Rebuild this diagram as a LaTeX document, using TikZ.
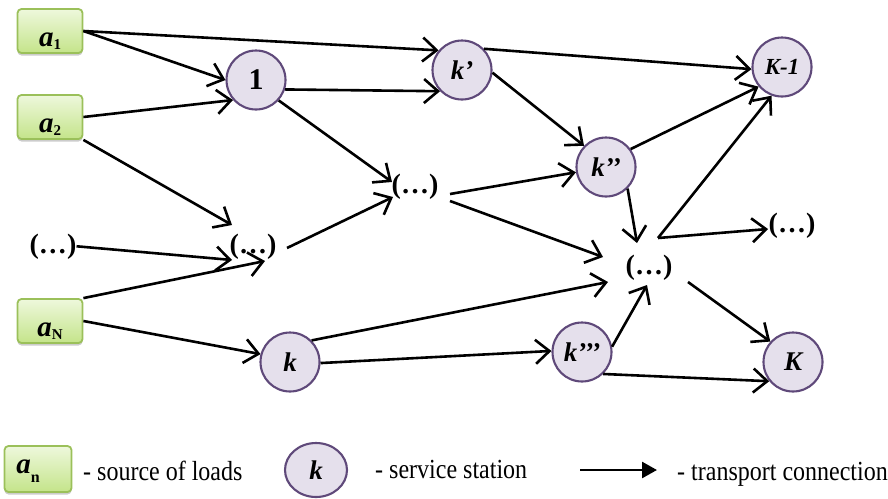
\documentclass[tikz,border=0pt]{standalone}
\usepackage{fontspec}
\usepackage{graphicx}
\setmainfont{Liberation Serif}
\usetikzlibrary{arrows.meta,shadows,shapes.geometric}
\definecolor{srcTop}{HTML}{EEF8DC}
\definecolor{srcBot}{HTML}{C4E48A}
\definecolor{srcLine}{HTML}{9BC05A}
\definecolor{stFill}{HTML}{E5E0EC}
\definecolor{stLine}{HTML}{5F497A}
\newcommand{\srclab}[1]{{\fontsize{29}{29}\selectfont\bfseries\itshape a}{\fontsize{15}{15}\selectfont\bfseries\raisebox{-3pt}{#1}}}
\newcommand{\legtxt}[1]{\scalebox{1}[1.15]{#1}}
\begin{document}
\begin{tikzpicture}[x=1pt,y=-1pt,
 src/.style={rectangle, rounded corners=4pt, draw=srcLine, line width=1.8pt,
   top color=srcTop, bottom color=srcBot, minimum width=65pt, minimum height=44pt,
   drop shadow={shadow xshift=0pt, shadow yshift=-2.5pt, fill=black!40},
   inner sep=0pt, text height=30pt, text depth=0pt},
 st/.style={circle, draw=stLine, line width=2.1pt, fill=stFill, minimum size=59pt,
   inner sep=0pt, font=\fontsize{27}{27}\selectfont\bfseries\itshape},
 dots/.style={anchor=base, inner sep=0pt, font=\fontsize{28}{28}\selectfont\bfseries},
 conn/.style={line width=2.6pt, -{Straight Barb[length=14pt,width=24pt,line width=2.6pt]}},
 leg/.style={anchor=base west, inner sep=0pt, font=\fontsize{24}{24}\selectfont}
]
\useasboundingbox (0,0) rectangle (888,498);

% sources
\node[src] (a1) at (50,31) {\srclab{1}};
\node[src] (a2) at (50,117) {\srclab{2}};
\node[src] (aN) at (50,321) {\srclab{N}};
\node[dots] (dL) at (53,253) {(…)};

% stations
\node[st] (n1) at (256,80) {\fontsize{30}{30}\selectfont\upshape 1};
\node[st] (kp) at (462,70) {k’};
\node[st] (Km) at (782,67) {\fontsize{23}{23}\selectfont K-1};
\node[st] (kpp) at (606,167) {k’’};
\node[st] (k) at (290,362) {k};
\node[st] (kppp) at (582,352) {k’’’};
\node[st] (K) at (793,362) {K};

% intermediate dots
\node[dots] (dLM) at (253,253) {(…)};
\node[dots] (dM) at (415,193) {(…)};
\node[dots] (dC) at (649,274) {(…)};
\node[dots] (dR) at (792,232) {(…)};

% ports around dots
\coordinate (dLM-in1) at (232,225);
\coordinate (dLM-in2) at (232,260);
\coordinate (dLM-in3) at (265,261);
\coordinate (dLM-out) at (287,248);
\coordinate (dM-in1) at (392,182);
\coordinate (dM-in2) at (393,197);
\coordinate (dM-out1) at (450,194);
\coordinate (dM-out2) at (450,201);
\coordinate (dC-in1) at (603,257);
\coordinate (dC-in2) at (608,282);
\coordinate (dC-in3) at (637,243);
\coordinate (dC-in4) at (647,285);
\coordinate (dC-out1) at (658,238);
\coordinate (dC-out2) at (688,282);
\coordinate (dR-in) at (768,229);

% connections
\draw[conn] (a1.east) -- (kp.140);
\draw[conn] (a1.east) -- (n1.180);
\draw[conn] (a2.east) -- (n1.221);
\draw[conn] (a2.south east) -- (dLM-in1);
\draw[conn] (dL.east) -- (dLM-in2);
\draw[conn] (aN.north east) -- (dLM-in3);
\draw[conn] (aN.east) -- (k.165);
\draw[conn] (n1.-18) -- (kp.-136);
\draw[conn] (n1.-42) -- (dM-in1);
\draw[conn] (dLM-out) -- (dM-in2);
\draw[conn] (kp.44) -- (Km.-176);
\draw[conn] (kp.-5) -- (kpp.136);
\draw[conn] (dM-out1) -- (kpp.190);
\draw[conn] (dM-out2) -- (dC-in1);
\draw[conn] (k.45) -- (dC-in2);
\draw[conn] (k.-2) -- (kppp.178);
\draw[conn] (kpp.-45) -- (dC-in3);
\draw[conn] (kpp.36) -- (Km.220);
\draw[conn] (dC-out1) -- (Km.250);
\draw[conn] (dC-out1) -- (dR-in);
\draw[conn] (kppp.10) -- (dC-in4);
\draw[conn] (dC-out2) -- (K.138);
\draw[conn] (kppp.-46) -- (K.219);

% legend
\node[src, minimum width=67pt, minimum height=46pt, text height=10pt, text depth=2pt] (lsrc) at (38,469)
  {{\fontsize{29}{29}\selectfont\bfseries\itshape a}\raisebox{-9pt}{\fontsize{16}{16}\selectfont\bfseries n}\hspace*{20pt}};
\node[leg] (lsrcT) at (83,480) {\legtxt{- source of loads}};
\node[st, ellipse, minimum width=62pt, minimum height=54pt] (lst) at (316,470) {k};
\node[leg] (lstT) at (375,478) {\legtxt{- service station}};
\coordinate (larrA) at (580,470);
\coordinate (larrB) at (657,470);
\draw[line width=2.6pt, -{Triangle[length=15pt,width=16pt]}] (larrA) -- (larrB);
\node[leg] (lconnT) at (677,480) {\legtxt{- transport connection}};
\end{tikzpicture}
\end{document}
